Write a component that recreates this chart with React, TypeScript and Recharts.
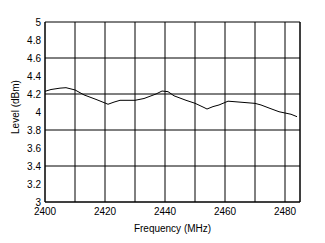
import { CartesianGrid, Line, LineChart, ReferenceLine, XAxis, YAxis } from 'recharts'

const freq = [
  2400, 2402, 2405, 2407, 2410, 2413, 2417, 2420, 2421, 2423, 2425, 2430, 2433, 2437, 2439, 2441, 2443,
  2447, 2450, 2453, 2454, 2456, 2458, 2461, 2463, 2470, 2472, 2475, 2478, 2482, 2484,
]
const level = [
  4.23, 4.25, 4.265, 4.27, 4.245, 4.19, 4.14, 4.1, 4.086, 4.11, 4.13, 4.13, 4.15, 4.2, 4.233, 4.226, 4.18,
  4.13, 4.097, 4.05, 4.033, 4.06, 4.078, 4.12, 4.115, 4.096, 4.078, 4.04, 4.003, 3.975, 3.948,
]
const xTicks = [2400, 2410, 2420, 2430, 2440, 2450, 2460, 2470, 2480]
const yTicks = [3, 3.2, 3.4, 3.6, 3.8, 4, 4.2, 4.4, 4.6, 4.8, 5]

const data = freq.map((f, i) => ({ f, v: level[i] }))

const font = { fontFamily: 'Liberation Sans, Arial, sans-serif', fontSize: 10, fill: '#000' }

export default function App() {
  return (
    <div style={{ position: 'fixed', left: 0, top: 0, width: 325, height: 243, background: '#fff' }}>
      <LineChart width={325} height={243} data={data} margin={{ top: 22, right: 25, left: 0, bottom: 11 }}>
        <CartesianGrid stroke="#000" strokeWidth={1} />
        <XAxis
          dataKey="f"
          type="number"
          domain={[2400, 2485]}
          ticks={xTicks}
          tickFormatter={(t: number) => (t % 20 === 0 ? String(t) : '')}
          tick={font}
          tickLine={false}
          tickSize={2}
          tickMargin={4}
          axisLine={{ stroke: '#000' }}
          height={30}
          label={{ value: 'Frequency (MHz)', position: 'insideBottom', offset: 0, style: font }}
        />
        <YAxis
          type="number"
          domain={[3, 5]}
          ticks={yTicks}
          tick={font}
          tickLine={false}
          tickSize={2}
          tickMargin={2}
          axisLine={{ stroke: '#000' }}
          width={45}
          label={{ value: 'Level (dBm)', angle: -90, position: 'insideLeft', offset: 15, dy: -5, style: { ...font, textAnchor: 'middle' } }}
        />
        <ReferenceLine x={2485} stroke="#000" />
        <Line dataKey="v" stroke="#000" strokeWidth={1} dot={false} isAnimationActive={false} type="linear" />
      </LineChart>
    </div>
  )
}
